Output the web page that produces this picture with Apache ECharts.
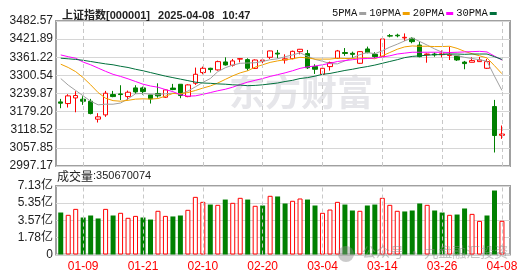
<!DOCTYPE html>
<html><head><meta charset="utf-8">
<script src="https://cdn.jsdelivr.net/npm/echarts@6/dist/echarts.min.js"></script>
<style>html,body{margin:0;padding:0;background:#fff}#c{width:530px;height:276px}</style>
</head><body><div id="c"></div>
<script>
const dates = ['01-06','01-07','01-08','01-09','01-10','01-13','01-14','01-15','01-16','01-17','01-20','01-21','01-22','01-23','01-24','01-27',
'02-05','02-06','02-07','02-10','02-11','02-12','02-13','02-14','02-17','02-18','02-19','02-20','02-21','02-24','02-25','02-26','02-27','02-28',
'03-03','03-04','03-05','03-06','03-07','03-10','03-11','03-12','03-13','03-14','03-17','03-18','03-19','03-20','03-21','03-24','03-25','03-26','03-27','03-28','03-31',
'04-01','04-02','04-03','04-07','04-08'];
const labelDates = ['01-09','01-21','02-10','02-20','03-04','03-14','03-26','04-08'];
// [open, close, low, high]
const ohlc = [
[3211.8,3207.4,3190.6,3221.8],[3206.2,3231.9,3192.9,3237.4],[3225,3233,3177,3247.5],[3220.7,3214,3201.8,3230.7],
[3214,3172.8,3170,3221.8],[3153.9,3161.7,3142.7,3174],[3168.3,3240.8,3161.7,3248.6],[3236.3,3229.6,3227.4,3248.6],
[3238.5,3236.3,3218,3267.5],[3229.6,3244.1,3218.5,3249.7],[3258.6,3245.2,3238.5,3267.5],[3258.6,3246.3,3236.3,3263],
[3235.2,3221.8,3206.2,3235.2],[3240,3232,3226,3274],[3227.4,3251.9,3225,3254],[3258,3253,3251,3272],
[3270.8,3233,3224,3271],[3229.6,3268.6,3227.4,3270.8],[3274.2,3304.3,3268.6,3326.6],[3309.9,3324.3,3304.3,3329.9],
[3324.3,3320,3310,3326],[3318.8,3346.6,3316.5,3350],[3345.5,3335.5,3333.3,3361],[3334.4,3348.9,3330,3355.5],
[3355,3356.5,3344,3358],[3353.3,3324.3,3316.5,3357.8],[3324,3352,3322,3354],[3349,3352,3341,3360],
[3361.1,3382.3,3355.5,3383.4],[3375,3372,3357.8,3385.6],[3352,3356,3340,3371],[3356.6,3381,3354.4,3383.4],
[3380,3387.9,3371,3389],[3373.4,3326,3322,3385.6],[3329.9,3321,3305.4,3337.7],[3304.3,3324.3,3302,3326.6],
[3329.9,3343.3,3316.5,3346.6],[3357.8,3382.3,3355.5,3385.6],[3377,3374,3366,3392],[3374.5,3371,3358,3380],
[3341,3380,3339,3382],[3389,3376.7,3374.5,3396.8],[3371,3363.3,3357.8,3378],[3363.3,3422.4,3361,3424.6],
[3433.5,3432,3428,3439],[3435,3433,3428,3440],[3426,3428,3416,3441],[3424.6,3413.5,3408,3428],
[3402,3363.3,3361,3413.5],[3370,3372,3343,3374],[3372,3369,3363,3377],[3370,3373,3361,3384],
[3367,3371,3352,3396.7],[3365.6,3352.2,3348.9,3365.6],[3345,3340,3321,3349],[3344.4,3350,3344,3361],
[3346.6,3352,3346,3362],[3324.3,3346.6,3322,3355.5],[3196.2,3099.2,3042.4,3218.5],[3100,3104,3088,3132.7]
];
const ma5 = [3290,3268,3250,3232,3214,3202,3204,3204,3208,3222,3239,3240,3238,3237,3239,3241,3238,3248,3262,3277,
3290,3313,3326,3335,3341,3342,3343,3347,3353,3356,3363,3369,3376,3365,3354,3348,3340,3339,3349,3359,
3370,3377,3373,3383,3395,3405,3416,3426,3414,3402,3389,3378,3370,3367,3361,3357,3353,3348,3298,3250];
const ma10 = [3338,3327,3313,3293,3269,3243,3224,3216,3214,3217,3221,3222,3221,3223,3231,3240,3239,3243,3250,3258,
3265,3275,3287,3299,3309,3316,3328,3336,3344,3349,3353,3356,3361,3359,3355,3355,3355,3358,3357,3357,
3359,3359,3356,3366,3377,3388,3396,3399,3398,3398,3397,3397,3398,3391,3381,3373,3366,3359,3333,3306];
const ma20 = [3369,3363,3358,3345,3336,3325,3314,3304,3297,3289,3280,3271,3265,3261,3253,3246,3236,3231,3232,3237,
3243,3249,3254,3261,3270,3278,3284,3290,3297,3303,3309,3316,3324,3329,3332,3336,3341,3347,3350,3353,
3356,3357,3359,3362,3366,3372,3375,3378,3378,3378,3378,3378,3377,3378,3379,3380,3381,3379,3365,3352];
const ma30 = [3358,3356,3354,3351,3347,3343,3339,3336,3331,3327,3321,3316,3310,3304,3298,3293,3288,3283,3278,3275,
3274,3272,3271,3269,3268,3266,3267,3269,3272,3275,3280,3284,3290,3293,3298,3304,3307,3312,3317,3321,
3326,3330,3335,3341,3347,3353,3360,3364,3366,3368,3370,3370,3372,3372,3371,3372,3372,3372,3363,3354];
// volume in 亿 (1e8)
const volume = [4.37,4.13,4.75,3.85,4.06,3.75,4.75,4.06,4.34,3.82,4.02,3.85,3.64,4.55,4.02,3.96,4.06,4.65,6.00,5.48,
5.20,5.17,5.72,5.38,5.90,5.72,5.07,5.10,6.11,6.04,5.31,5.59,5.83,5.72,5.10,4.34,4.68,5.48,5.20,4.58,
4.55,5.10,5.20,5.90,5.17,4.55,4.48,4.58,5.31,5.17,4.58,4.37,4.13,4.16,4.79,4.23,3.50,4.06,6.66,3.5067];
const volUp = [0,1,1,0,0,0,1,0,1,1,1,0,0,1,1,0,0,1,1,1,0,1,0,1,1,0,1,0,1,0,
0,1,1,0,0,1,1,1,0,0,1,0,0,1,1,1,0,0,0,1,0,0,1,0,0,1,1,0,0,1];
const priceTicks = ['2997.17','3057.85','3118.52','3179.20','3239.87','3300.54','3361.22','3421.89','3482.57'];
const volTicks = ['0','1.78亿','3.57亿','5.35亿','7.13亿'];
const priceMin = 2997.17, priceMax = 3482.57, volMax = 7.13;
const lastVolume = '350670074';

const sans = '"Liberation Sans", "Noto Sans CJK SC", sans-serif';
const RED = '#ff0000', GREEN = '#008000';
const pStep = (priceMax - priceMin) / 8;
const vStep = volMax / 4;

const chart = echarts.init(document.getElementById('c'), null, {renderer: 'canvas'});
const dashed = (xi, yi) => ({
  type: 'line', xAxisIndex: xi, yAxisIndex: yi, data: [], z: 1, silent: true,
  markLine: {silent: true, symbol: ['none','none'], label: {show: false}, animation: false,
    lineStyle: {type: [4,3], color: '#c8c8c8', width: 1},
    data: labelDates.map(d => ({xAxis: d}))}
});
const maLine = (name, data, color) => ({
  name, type: 'line', xAxisIndex: 1, yAxisIndex: 1, data, symbol: 'none', z: 4,
  lineStyle: {width: 1, color}, itemStyle: {color}
});
chart.setOption({
  animation: false,
  textStyle: {fontFamily: sans},
  title: {
    left: 57, top: 2,
    text: '{a|上证指数[000001]} {b|2025-04-08} {b|10:47}',
    textStyle: {rich: {
      a: {fontSize: 11, color: '#222', fontFamily: sans},
      b: {fontSize: 11, color: '#222', fontFamily: sans, padding: [0,0,0,3]}
    }}
  },
  legend: {
    left: 327, top: 3, align: 'right', icon: 'rect', itemWidth: 7, itemHeight: 3, itemGap: 3,
    data: ['5PMA','10PMA','20PMA','30PMA'],
    textStyle: {fontFamily: '"Liberation Mono", monospace', fontSize: 10.5, color: '#111', padding: [0,-3,0,0]}
  },
  graphic: [
    {type: 'text', left: 229, top: 74, z: 0, silent: true,
     style: {text: '东方财富', font: 'bold 36px "Noto Sans CJK SC"', fill: '#e6e6ea'}},
    {type: 'text', left: 57, top: 170, z: 10,
     style: {text: '{a|成交量}{b|:' + lastVolume + '}', rich: {
       a: {fontSize: 12, fontFamily: '"Noto Sans CJK SC"', fill: '#222'},
       b: {fontSize: 11, fontFamily: sans, fill: '#222'}}}},
    {type: 'circle', shape: {cx: 346, cy: 254, r: 8}, z: 100, silent: true,
     style: {fill: 'rgba(140,140,140,0.45)'}},
    {type: 'text', left: 362, top: 245, z: 100, silent: true,
     style: {text: '公众号 · 九盘融汇投资', font: '14px "Noto Sans CJK SC"', fill: 'rgba(140,140,140,0.5)'}}
  ],
  grid: [
    {left: 56, right: 20, top: 21, height: 145, show: true, borderColor: '#a0a0a0', borderWidth: 2, backgroundColor: 'transparent'},
    {left: 57, right: 24.3, top: 21, height: 145},
    {left: 56, right: 20, top: 186, height: 68.5, show: true, borderColor: '#a0a0a0', borderWidth: 2, backgroundColor: 'transparent'},
    {left: 57, right: 24.3, top: 186, height: 68.5}
  ],
  xAxis: [
    {gridIndex: 0, type: 'value', min: 0, max: 1, show: false},
    {gridIndex: 1, type: 'category', data: dates, boundaryGap: true, show: false},
    {gridIndex: 2, type: 'value', min: 0, max: 1, show: false},
    {gridIndex: 3, type: 'category', data: dates, boundaryGap: true,
     axisLine: {show: false}, axisTick: {show: false}, splitLine: {show: false},
     axisLabel: {interval: (i, v) => labelDates.includes(v), color: RED, fontSize: 12, margin: 6, fontFamily: sans}}
  ],
  yAxis: [
    {gridIndex: 0, type: 'value', min: priceMin, max: priceMax, interval: pStep,
     axisLine: {show: false}, axisTick: {show: false},
     splitLine: {lineStyle: {color: '#d6d6d6', width: 1}},
     axisLabel: {margin: 3, fontSize: 12, color: '#222', fontFamily: sans,
       formatter: v => priceTicks[Math.round((v - priceMin) / pStep)]}},
    {gridIndex: 1, type: 'value', min: priceMin, max: priceMax, show: false, splitLine: {show: false}},
    {gridIndex: 2, type: 'value', min: 0, max: volMax, interval: vStep,
     axisLine: {show: false}, axisTick: {show: false},
     splitLine: {lineStyle: {color: '#d6d6d6', width: 1}},
     axisLabel: {margin: 3, fontSize: 12, color: '#222', fontFamily: sans,
       formatter: v => volTicks[Math.round(v / vStep)]}},
    {gridIndex: 3, type: 'value', min: 0, max: volMax, show: false, splitLine: {show: false}}
  ],
  series: [
    dashed(1, 1),
    dashed(3, 3),
    {type: 'candlestick', xAxisIndex: 1, yAxisIndex: 1, barWidth: 5, z: 3,
     data: ohlc.map(d => [d[0], d[1], d[2], d[3]]),
     itemStyle: {color: '#ffffff', color0: GREEN, borderColor: RED, borderColor0: GREEN, borderWidth: 1}},
    maLine('5PMA', ma5, '#a0a0a0'),
    maLine('10PMA', ma10, '#f0a000'),
    maLine('20PMA', ma20, '#ff00ff'),
    maLine('30PMA', ma30, '#00703c'),
    {type: 'bar', xAxisIndex: 3, yAxisIndex: 3, barWidth: 5, z: 3,
     data: volume.map((v, i) => ({value: v, itemStyle: volUp[i]
       ? {color: '#ffffff', borderColor: RED, borderWidth: 1}
       : {color: GREEN}}))}
  ]
});
</script></body></html>
